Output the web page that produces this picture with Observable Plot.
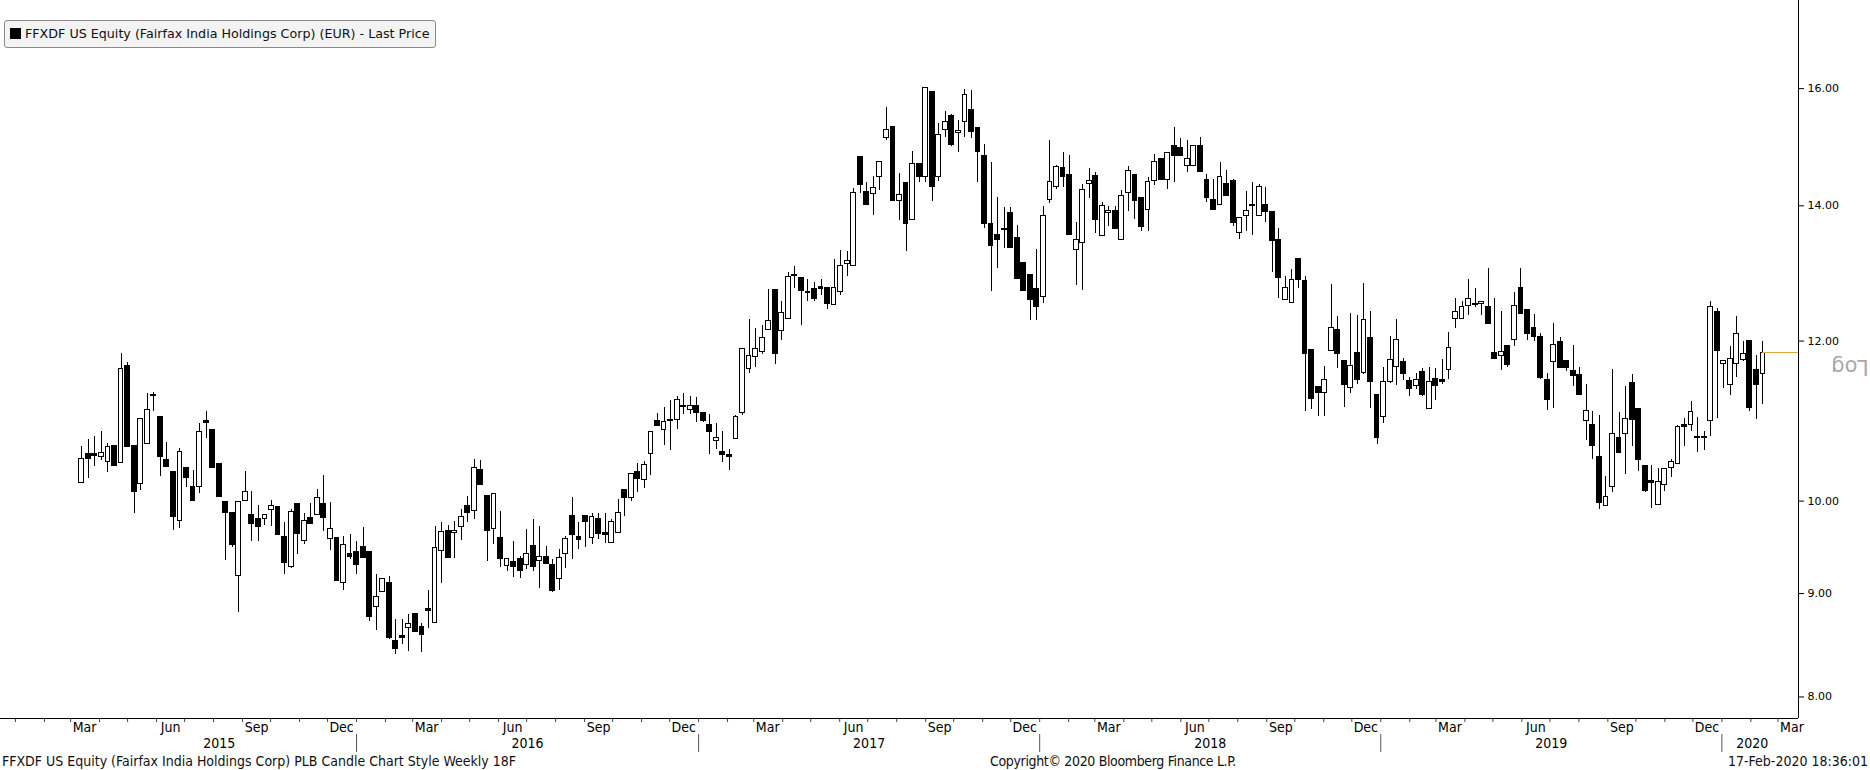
<!DOCTYPE html>
<html>
<head>
<meta charset="utf-8">
<script src="https://cdn.jsdelivr.net/npm/d3@7"></script>
<script src="https://cdn.jsdelivr.net/npm/@observablehq/plot@0.6"></script>
<style>
  html, body { margin: 0; padding: 0; background: #fff; }
  #wrap { position: relative; width: 1870px; height: 770px; overflow: hidden; background: #fff; }
  #legend { position: absolute; left: 4px; top: 20px; width: 432px; height: 28px; box-sizing: border-box;
    border: 1px solid #8a8a8a; border-radius: 3px; background: #f3f3f3;
    font-family: "DejaVu Sans", sans-serif; font-size: 12.7px; color: #111; line-height: 26px; white-space: nowrap; }
  #legend .sw { display: inline-block; width: 11px; height: 11px; background: #000; margin: 0 4px 0 5px; vertical-align: -1px; }
  #log { position: absolute; left: 1830px; top: 355px; width: 40px; text-align: center; font-family: "DejaVu Sans", sans-serif;
    font-size: 21px; color: #a8a8a8; line-height: 24px; transform: rotate(180deg); transform-origin: 50% 50%; }
  #footer { position: absolute; left: 0; top: 752px; width: 1870px; height: 18px;
    font-family: "Liberation Sans Narrow", "DejaVu Sans Condensed", sans-serif; font-size: 14px; color: #111; }
  #footer span { position: absolute; top: 1px; white-space: nowrap; }
  #footer #fc { letter-spacing: -0.35px; }
</style>
</head>
<body>
<div id="wrap">
  <div id="chart"></div>
  <div id="legend"><span class="sw"></span><span id="legendText"></span></div>
  <div id="log">Log</div>
  <div id="footer"><span id="fl"></span><span id="fc"></span><span id="fr"></span></div>
</div>
<script>
// ---- data (weekly bars, EUR) ----
const lastWeek = "2020-02-14";
const open = [10.21,10.55,10.55,10.51,10.45,10.65,10.44,11.66,10.65,10.20,
10.67,11.29,11.01,10.48,10.34,9.78,10.38,10.16,10.16,10.96,
10.85,10.43,9.99,9.87,9.18,10.00,9.84,9.80,9.80,9.90,
9.93,9.60,9.28,9.97,9.56,9.81,9.84,9.97,9.58,9.59,
9.11,9.42,9.44,9.49,9.44,8.86,9.02,9.11,8.53,8.58,
8.65,8.79,8.66,8.84,8.70,9.45,9.66,9.64,9.71,9.95,
9.89,10.36,10.06,9.69,9.59,9.29,9.33,9.36,9.30,9.50,
9.34,9.38,9.30,9.15,9.41,9.83,9.60,9.83,9.59,9.80,
9.64,9.53,9.64,10.13,10.04,10.34,10.24,10.55,10.95,10.84,
10.97,10.97,11.15,11.10,11.15,11.06,10.90,10.71,10.58,10.54,
10.73,11.05,11.62,11.78,11.85,12.15,12.72,12.14,12.30,12.94,
12.89,12.69,12.74,12.76,12.75,12.51,12.69,13.10,13.07,14.80,
14.23,14.19,14.46,15.13,15.31,14.07,14.37,13.77,14.68,14.47,
15.93,14.46,15.26,15.50,15.21,15.41,15.61,15.30,14.82,13.71,
13.54,13.64,13.88,13.49,13.11,12.94,12.74,12.62,14.10,14.31,
14.62,14.50,13.32,13.42,14.36,14.49,13.53,13.88,13.92,13.47,
14.21,14.50,14.12,13.93,14.40,14.77,14.41,14.98,14.96,14.65,
14.65,14.98,14.41,14.09,14.01,14.36,14.40,13.57,13.84,13.99,
13.84,14.01,13.90,13.46,12.57,12.53,13.18,12.85,11.88,11.39,
11.31,11.87,12.15,11.73,11.38,11.84,11.57,12.04,11.29,11.00,
11.45,11.65,11.72,11.47,11.40,11.59,11.11,11.49,11.48,11.61,
12.31,12.30,12.49,12.51,12.52,12.47,11.84,11.80,11.93,12.01,
12.75,12.43,12.18,12.05,11.48,11.72,11.99,11.73,11.60,11.55,
10.96,10.91,10.51,9.94,10.16,10.75,10.80,11.44,11.11,10.41,
10.23,9.96,10.19,10.38,10.43,10.90,10.90,10.76,10.76,10.96,
12.41,11.69,11.42,11.69,11.75,12.00,11.61,11.56];
const high = [10.64,10.73,10.76,10.82,10.68,10.66,11.83,11.71,10.65,10.98,
11.31,11.32,11.01,10.69,10.34,10.62,10.38,10.35,10.92,11.08,
10.85,10.43,10.00,9.87,9.99,10.34,10.11,9.95,9.84,10.01,
9.93,9.76,9.90,9.97,9.86,9.97,10.13,10.30,9.98,9.59,
9.60,9.63,9.55,9.70,9.44,9.20,9.15,9.18,8.74,8.74,
8.79,8.79,8.70,9.03,9.72,9.76,9.73,9.77,9.90,10.05,
10.48,10.47,10.06,10.08,9.88,9.36,9.55,9.39,9.68,9.79,
9.72,9.50,9.36,9.46,9.60,10.04,9.76,9.83,9.86,9.86,
9.86,9.79,10.02,10.13,10.31,10.44,10.46,10.82,11.05,11.12,
11.21,11.26,11.31,11.26,11.25,11.06,11.04,10.93,10.83,10.60,
11.02,11.89,12.30,12.18,12.21,12.72,12.72,12.56,12.97,13.07,
12.89,12.87,12.83,12.87,12.75,13.17,13.30,13.29,14.28,14.80,
14.38,14.47,14.71,15.66,15.31,14.53,14.37,14.89,14.68,16.02,
15.93,15.37,15.59,15.53,15.43,15.99,15.96,15.30,15.01,14.71,
14.14,13.98,13.97,13.69,13.11,12.94,13.32,13.99,15.09,14.66,
14.87,14.83,13.73,14.34,14.60,14.54,14.05,13.99,13.99,14.24,
14.64,14.50,14.12,14.46,14.84,14.77,14.87,15.30,15.11,15.09,
14.98,15.13,14.51,14.43,14.71,14.57,14.43,13.80,14.23,14.38,
14.34,14.30,13.90,13.64,12.92,13.02,13.18,12.91,11.88,11.39,
11.66,12.80,12.34,11.73,12.38,12.35,12.81,12.41,11.29,11.65,
12.06,12.30,11.76,11.51,11.56,11.63,11.64,11.63,11.75,12.12,
12.59,12.55,12.87,12.74,12.55,13.04,12.60,12.41,11.93,12.69,
13.04,12.43,12.37,12.10,11.56,12.24,12.05,11.73,11.94,11.65,
11.42,11.08,11.02,10.29,11.62,11.06,11.39,11.55,11.11,10.41,
10.42,10.38,10.37,10.48,10.90,10.99,11.20,11.00,10.83,12.55,
12.45,11.73,11.93,12.34,11.99,12.00,11.81,12.00];
const low = [10.20,10.26,10.40,10.47,10.33,10.40,10.44,10.64,9.86,10.12,
10.67,11.07,10.28,10.40,9.67,9.69,10.16,10.00,10.09,10.74,
10.38,10.05,9.35,9.48,8.81,10.00,9.55,9.55,9.73,9.71,
9.62,9.20,9.26,9.41,9.52,9.74,9.84,9.66,9.45,9.13,
9.03,9.36,9.20,9.37,8.72,8.63,9.02,8.54,8.40,8.49,
8.43,8.61,8.42,8.65,8.70,9.10,9.37,9.37,9.56,9.76,
9.79,10.19,9.33,9.52,9.27,9.23,9.17,9.16,9.25,9.23,
9.05,9.31,9.01,9.03,9.26,9.36,9.46,9.49,9.52,9.57,
9.53,9.53,9.64,9.83,10.00,10.10,10.14,10.30,10.89,10.65,
10.59,10.85,11.04,11.04,10.94,10.94,10.55,10.60,10.45,10.35,
10.73,11.02,11.56,11.64,11.82,12.15,11.69,12.01,12.30,12.74,
12.21,12.56,12.56,12.64,12.44,12.51,12.64,12.92,13.07,14.20,
14.01,13.84,14.25,15.09,14.07,13.77,13.29,13.77,14.37,14.37,
14.07,14.39,15.14,14.98,14.87,15.14,15.11,14.37,13.64,12.70,
13.04,13.33,13.34,12.88,12.70,12.29,12.29,12.53,14.04,14.26,
14.30,13.54,12.78,12.71,14.12,13.56,13.53,13.67,13.63,13.47,
13.91,13.78,13.59,13.59,14.32,14.41,14.27,14.37,14.82,14.54,
14.65,14.54,14.06,13.93,14.01,14.15,13.67,13.47,13.59,13.54,
13.84,13.73,12.97,12.60,12.57,12.53,12.74,11.08,11.10,11.01,
11.01,11.87,11.63,11.13,11.31,11.42,11.55,11.11,10.67,10.92,
11.44,11.41,11.47,11.26,11.36,11.27,11.11,11.21,11.42,11.49,
12.18,12.30,12.35,12.47,12.36,12.23,11.76,11.60,11.65,11.93,
12.37,12.01,11.99,11.49,11.09,11.11,11.64,11.59,11.40,11.28,
10.72,10.49,9.90,9.94,10.10,10.56,10.31,10.64,10.34,10.10,
9.92,9.96,10.11,10.27,10.43,10.64,10.82,10.57,10.59,10.77,
10.99,11.37,11.28,11.51,11.73,11.08,10.97,11.17];
const close = [10.49,10.49,10.53,10.56,10.64,10.41,11.62,10.64,10.11,10.98,
11.09,11.27,10.52,10.40,9.82,10.58,10.27,10.00,10.82,10.93,
10.38,10.05,9.87,9.51,9.99,10.11,9.74,9.71,9.84,9.94,
9.62,9.32,9.88,9.63,9.78,9.74,10.03,9.81,9.69,9.13,
9.51,9.38,9.30,9.37,8.76,8.96,9.15,8.56,8.45,8.56,
8.69,8.61,8.59,8.82,9.48,9.65,9.37,9.66,9.82,9.87,
10.38,10.19,9.66,10.08,9.36,9.36,9.28,9.23,9.41,9.28,
9.38,9.31,9.03,9.37,9.58,9.62,9.57,9.76,9.82,9.63,
9.62,9.76,9.86,10.04,10.31,10.26,10.42,10.82,10.89,10.94,
10.95,11.22,11.13,11.14,11.06,10.96,10.82,10.74,10.54,10.52,
11.00,11.89,11.80,11.89,12.04,12.28,11.83,12.39,12.91,12.92,
12.70,12.67,12.59,12.74,12.52,12.75,13.07,13.14,14.21,14.34,
14.01,14.28,14.71,15.26,14.07,14.18,13.71,14.69,14.47,16.02,
14.31,15.18,15.41,15.01,15.25,15.88,15.22,14.88,13.71,13.37,
13.46,13.62,13.34,12.88,12.70,12.57,12.47,13.84,14.39,14.63,
14.46,13.54,13.47,14.26,14.40,13.78,14.00,13.91,13.63,14.15,
14.56,14.07,13.67,14.39,14.72,14.41,14.87,14.81,14.82,14.76,
14.98,14.55,14.13,13.93,14.47,14.15,13.73,13.80,13.91,14.01,
14.31,13.90,13.45,12.89,12.75,12.86,12.87,11.83,11.23,11.31,
11.48,12.18,11.83,11.42,11.66,11.48,12.29,11.45,10.74,11.45,
11.75,12.02,11.56,11.36,11.48,11.29,11.45,11.40,11.46,11.91,
12.41,12.47,12.59,12.52,12.55,12.24,11.76,11.85,11.68,12.49,
12.37,12.10,12.06,11.51,11.22,11.95,11.64,11.64,11.53,11.28,
11.08,10.65,9.98,10.05,10.79,10.56,10.98,10.97,10.48,10.12,
10.21,10.22,10.37,10.45,10.88,10.88,11.07,10.74,10.75,12.47,
11.86,11.73,11.76,12.10,11.83,11.12,11.42,11.84];

// ---- axis labels / texts ----
const priceTicks = [8, 9, 10, 12, 14, 16];
const labelledMonths = ["Mar", "Jun", "Sep", "Dec"];
const yearLabels = ["2015", "2016", "2017", "2018", "2019", "2020"];
const legendLabel = "FFXDF US Equity (Fairfax India Holdings Corp) (EUR) - Last Price";
const footerLeft = "FFXDF US Equity (Fairfax India Holdings Corp) PLB Candle Chart Style  Weekly 18F";
const footerCenter = "Copyright\u00A9 2020 Bloomberg Finance L.P.";
const footerRight = "17-Feb-2020 18:36:01";

// ---- build table ----
const n = close.length;
const lastDate = new Date(lastWeek);
const bars = close.map((c, i) => ({
  date: d3.utcDay.offset(lastDate, -7 * (n - 1 - i)),
  open: open[i], high: high[i], low: low[i], close: c
}));
const up = bars.filter(d => d.close >= d.open);
const down = bars.filter(d => d.close < d.open);
const half = 62; // hours either side of the bar date
const x1 = d => d3.utcHour.offset(d.date, -half);
const x2 = d => d3.utcHour.offset(d.date, half);

const xDomain = [new Date("2014-12-16"), new Date("2020-03-23")];
const yDomain = [7.806, 17.69];

const monthFmt = d3.utcFormat("%b");
const monthStarts = d3.utcMonth.range(d3.utcMonth.ceil(xDomain[0]), xDomain[1]);
const monthMids = monthStarts.filter(d => labelledMonths.includes(monthFmt(d))).map(d => d3.utcDay.offset(d, 15));
const yearStarts = d3.utcYear.range(d3.utcYear.ceil(bars[0].date), xDomain[1]);
const spanEnd = d3.utcDay.offset(lastDate, 21);
const yearMids = yearLabels.map(y => {
  const a = Math.max(+new Date(`${y}-01-01`), +bars[0].date);
  const b = Math.min(+new Date(`${+y + 1}-01-01`), +spanEnd);
  return new Date((a + b) / 2);
});

const narrow = "'Liberation Sans Narrow', 'DejaVu Sans Condensed', sans-serif";
const blank = () => "";

const chart = Plot.plot({
  width: 1870,
  height: 752,
  marginTop: 0,
  marginLeft: 0,
  marginRight: 72,
  marginBottom: 34,
  style: { fontFamily: narrow, background: "#fff", color: "#000", overflow: "visible" },
  x: { type: "utc", domain: xDomain, axis: null, label: null },
  y: { type: "log", domain: yDomain, axis: null, label: null },
  marks: [
    Plot.axisX(monthStarts, { tickSize: 4, tickFormat: blank, stroke: "#444", label: null }),
    Plot.axisX(yearStarts, { tickSize: 18, dy: 16, tickFormat: blank, stroke: "#555", label: null }),
    Plot.axisX(monthMids, { tickSize: 0, tickPadding: 4, tickFormat: "%b", fontSize: 14, fontFamily: narrow, label: null }),
    Plot.axisX(yearMids, { tickSize: 0, tickPadding: 20, tickFormat: "%Y", fontSize: 14, fontFamily: narrow, label: null }),
    Plot.axisY(priceTicks, { anchor: "right", tickSize: 5, tickPadding: 4, tickFormat: d3.format(".2f"),
      fontSize: 11, fontFamily: "DejaVu Sans", label: null }),
    Plot.ruleY([yDomain[0]], { stroke: "#000", shapeRendering: "crispEdges" }),
    Plot.ruleX([xDomain[1]], { stroke: "#000", shapeRendering: "crispEdges" }),
    Plot.ruleX(bars, { x: "date", y1: "low", y2: "high", stroke: "#000", strokeWidth: 1, shapeRendering: "crispEdges" }),
    Plot.rect(down, { x1, x2, y1: "open", y2: "close", fill: "#000", stroke: "#000", strokeWidth: 1, shapeRendering: "crispEdges" }),
    Plot.rect(up, { x1, x2, y1: "open", y2: "close", fill: "#fff", stroke: "#000", strokeWidth: 1, shapeRendering: "crispEdges" }),
    Plot.ruleY([close[n - 1]], { x1: lastDate, x2: xDomain[1], stroke: "#e0a53c", strokeWidth: 1, shapeRendering: "crispEdges" })
  ]
});
document.getElementById("chart").appendChild(chart);
document.getElementById("legendText").textContent = legendLabel;
const fl = document.getElementById("fl"), fc = document.getElementById("fc"), fr = document.getElementById("fr");
fl.textContent = footerLeft; fl.style.left = "2px";
fc.textContent = footerCenter; fc.style.left = "1113px"; fc.style.transform = "translateX(-50%)";
fr.textContent = footerRight; fr.style.right = "2px";
</script>
</body>
</html>
